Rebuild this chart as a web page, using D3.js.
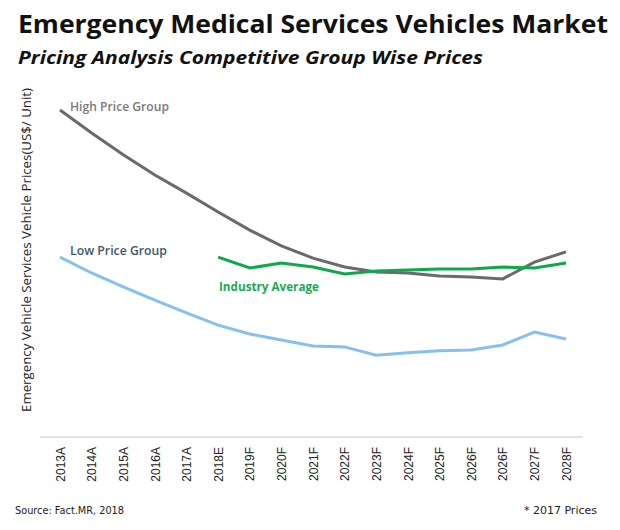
<!DOCTYPE html>
<html><head><meta charset="utf-8">
<script src="https://cdn.jsdelivr.net/npm/d3@7"></script>
<style>body{margin:0;background:#fff}</style>
</head><body>
<svg id="c" width="620" height="530"></svg>
<script>
const categories = ["2013A","2014A","2015A","2016A","2017A","2018E","2019F","2020F","2021F","2022F","2023F","2024F","2025F","2026F","2026F","2027F","2028F"];
const highPrice = [99.1,92.1,85.5,79.4,73.9,68.2,62.7,57.9,54.2,51.5,50.0,49.7,48.8,48.5,47.9,53.0,56.1];
const industryAverage = [null,null,null,null,null,54.5,51.2,52.7,51.5,49.4,50.3,50.6,50.9,50.9,51.5,51.2,52.7];
const lowPrice = [54.5,49.7,45.5,41.5,37.6,33.9,31.2,29.4,27.6,27.3,24.8,25.5,26.1,26.4,27.9,31.8,29.7];

const svg = d3.select("#c");
const font = "Calibri, Carlito, 'Open Sans', sans-serif";

svg.append("text").attr("x",18).attr("y",33).attr("font-family","'Open Sans', sans-serif")
  .attr("font-weight","bold").attr("font-size",25).attr("fill","#111")
  .attr("textLength",590).attr("lengthAdjust","spacingAndGlyphs")
  .text("Emergency Medical Services Vehicles Market");
svg.append("text").attr("x",18).attr("y",64).attr("font-family","'Open Sans', sans-serif")
  .attr("font-weight","bold").attr("font-style","italic").attr("font-size",18).attr("fill","#111")
  .attr("textLength",465).attr("lengthAdjust","spacingAndGlyphs")
  .text("Pricing Analysis Competitive Group Wise Prices");

const x = d3.scalePoint().domain(d3.range(categories.length)).range([60,566]);
const y = d3.scaleLinear().domain([0,100]).range([437,107]);

// axis
const xAxis = d3.axisBottom(x).tickSize(0).tickFormat(i => categories[i]);
const g = svg.append("g").attr("transform","translate(0,437)").call(xAxis);
g.select(".domain").attr("stroke","#d9d9d9").attr("stroke-width",1.5).attr("d","M40,0H583");
g.selectAll("text").attr("font-family","'Liberation Sans', Arial, sans-serif").attr("font-size",12)
  .attr("fill","#222").attr("transform","rotate(-90)").attr("text-anchor","end")
  .attr("x",-10).attr("y",0).attr("dy","0.35em");

// y label
svg.append("text").attr("transform","translate(31,250) rotate(-90)").attr("text-anchor","middle")
  .attr("font-family","'Open Sans', sans-serif").attr("font-size",12).attr("fill","#222")
  .attr("textLength",324).attr("lengthAdjust","spacingAndGlyphs")
  .text("Emergency Vehicle Services Vehicle Prices(US$/ Unit)");

const line = d3.line().defined(d => d != null).x((d,i) => x(i)).y(d => y(d));
svg.append("path").datum(highPrice).attr("d",line).attr("fill","none").attr("stroke","#6a6a6a").attr("stroke-width",3);
svg.append("path").datum(lowPrice).attr("d",line).attr("fill","none").attr("stroke","#86c1ee").attr("stroke-width",3);
svg.append("path").datum(industryAverage).attr("d",line).attr("fill","none").attr("stroke","#0fa84b").attr("stroke-width",3);

svg.append("text").attr("x",70).attr("y",111).attr("font-family","'Open Sans', sans-serif").attr("font-weight","600")
  .attr("font-size",12).attr("fill","#7a7a7a").attr("textLength",99).attr("lengthAdjust","spacingAndGlyphs").text("High Price Group");
svg.append("text").attr("x",70).attr("y",255).attr("font-family","'Open Sans', sans-serif").attr("font-weight","600")
  .attr("font-size",12).attr("fill","#3d5670").attr("textLength",97).attr("lengthAdjust","spacingAndGlyphs").text("Low Price Group");
svg.append("text").attr("x",219).attr("y",291).attr("font-family","'Open Sans', sans-serif").attr("font-weight","bold")
  .attr("font-size",12).attr("fill","#1fa754").attr("textLength",100).attr("lengthAdjust","spacingAndGlyphs").text("Industry Average");

svg.append("text").attr("x",15).attr("y",514).attr("font-family","'DejaVu Sans', sans-serif")
  .attr("font-size",11).attr("fill","#222").attr("textLength",109).attr("lengthAdjust","spacingAndGlyphs").text("Source: Fact.MR, 2018");
svg.append("text").attr("x",597).attr("y",514).attr("text-anchor","end").attr("font-family","'DejaVu Sans', sans-serif")
  .attr("font-size",11).attr("fill","#222").text("* 2017 Prices");
</script>
</body></html>
